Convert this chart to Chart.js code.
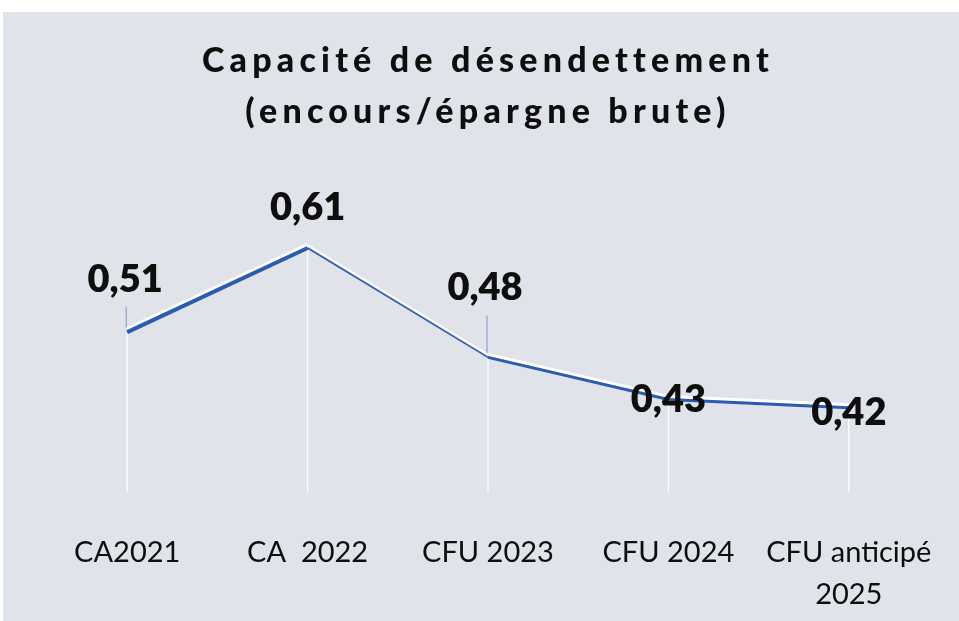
<!DOCTYPE html>
<html>
<head>
<meta charset="utf-8">
<script src="https://cdn.jsdelivr.net/npm/chart.js@4.4.1/dist/chart.umd.min.js"></script>
<style>
  html, body { margin: 0; padding: 0; background: #fff; }
  .chart-wrap { position: absolute; left: 0; top: 0; width: 959px; height: 621px; }
</style>
</head>
<body>
<div class="chart-wrap"><canvas id="debtChart" width="959" height="621"></canvas></div>
<script>
// data
const categories = ['CA2021', 'CA  2022', 'CFU 2023', 'CFU 2024', ['CFU anticipé', '2025']];
const ratioValues = [0.51, 0.61, 0.48, 0.43, 0.42];
const valueLabels = ['0,51', '0,61', '0,48', '0,43', '0,42'];
const titleLines = ['Capacité de désendettement', '(encours/épargne brute)'];

// styling (label nudges relative to each point, segment widths)
const labelDx = [-2, 0, -3, 0, 0];
const labelDy = [-40, -28, -57, 13, 17];
const leaderTop = [-25, null, -42, null, null];
const segWidths = [4, 1.6, 3, 3];

const FONT = 'Lato, "Open Sans", "Noto Sans", sans-serif';
const INK = '#0e0e0e';
const LINE_BLUE = '#2b5cae';

let debtChart = null;

const paperPlugin = {
  id: 'paper',
  beforeDraw(chart) {
    const c = chart.ctx;
    c.save();
    c.fillStyle = '#ffffff';
    c.fillRect(0, 0, chart.width, chart.height);
    c.fillStyle = '#e0e3e9';
    c.fillRect(3, 12, chart.width - 3, chart.height - 12);
    c.restore();
    // title is spaced out in the original
    if ('letterSpacing' in c) c.letterSpacing = '5.2px';
  },
  beforeDatasetsDraw(chart) {
    const c = chart.ctx;
    if ('letterSpacing' in c) c.letterSpacing = '0px';
    // white drop lines + small leader ticks, behind the line
    const meta = chart.getDatasetMeta(0);
    const bottom = chart.chartArea.bottom;
    c.save();
    meta.data.forEach((pt, i) => {
      c.strokeStyle = 'rgba(255,255,255,0.95)';
      c.lineWidth = 1.3;
      c.beginPath();
      c.moveTo(pt.x, pt.y + 2);
      c.lineTo(pt.x, bottom);
      c.stroke();
      if (leaderTop[i] !== null) {
        c.strokeStyle = '#7d97c4';
        c.lineWidth = 1;
        c.beginPath();
        c.moveTo(pt.x - 1, pt.y + leaderTop[i]);
        c.lineTo(pt.x - 1, pt.y - 4);
        c.stroke();
      }
    });
    c.restore();
  },
  beforeDatasetDraw(chart) {
    const c = chart.ctx;
    c.save();
    c.shadowColor = '#ffffff';
    c.shadowBlur = 0;
    c.shadowOffsetX = 0;
    c.shadowOffsetY = -3;
  },
  afterDatasetDraw(chart) {
    chart.ctx.restore();
  },
  afterDatasetsDraw(chart) {
    const c = chart.ctx;
    const meta = chart.getDatasetMeta(0);
    c.save();
    c.font = '800 38px ' + FONT;
    c.fillStyle = INK;
    c.textAlign = 'center';
    c.textBaseline = 'alphabetic';
    meta.data.forEach((pt, i) => {
      c.fillText(valueLabels[i], pt.x + labelDx[i], pt.y + labelDy[i]);
    });
    c.restore();
  }
};

const ctx = document.getElementById('debtChart')?.getContext('2d');
if (ctx) {
  if (debtChart && typeof debtChart.destroy === 'function') { try { debtChart.destroy(); } catch (e) {} }
  debtChart = new Chart(ctx, {
    type: 'line',
    data: {
      labels: categories,
      datasets: [{
        data: ratioValues,
        borderColor: LINE_BLUE,
        borderWidth: 3,
        pointRadius: 0,
        tension: 0,
        fill: false,
        segment: {
          borderWidth: s => segWidths[s.p0DataIndex]
        }
      }]
    },
    options: {
      responsive: false,
      animation: false,
      layout: { padding: { left: 37, right: 20, top: 0, bottom: -35 } },
      plugins: {
        legend: { display: false },
        tooltip: { enabled: false },
        title: {
          display: true,
          text: titleLines,
          color: INK,
          font: { family: FONT, size: 34, weight: 900, lineHeight: 1.5 },
          padding: { top: 36, bottom: 68 }
        }
      },
      scales: {
        x: {
          offset: true,
          grid: { display: false, drawTicks: false },
          border: { display: false },
          afterFit(scale) {
            // keep the category slots evenly across the plot, like the original
            scale.paddingLeft = 0;
            scale.paddingRight = 0;
          },
          ticks: {
            z: 1,
            color: INK,
            padding: 40,
            maxRotation: 0,
            autoSkip: false,
            font: { family: FONT, size: 29, lineHeight: 1.45 }
          }
        },
        y: {
          display: false,
          min: 0.32,
          max: 0.66
        }
      }
    },
    plugins: [paperPlugin]
  });
}
</script>
</body>
</html>
